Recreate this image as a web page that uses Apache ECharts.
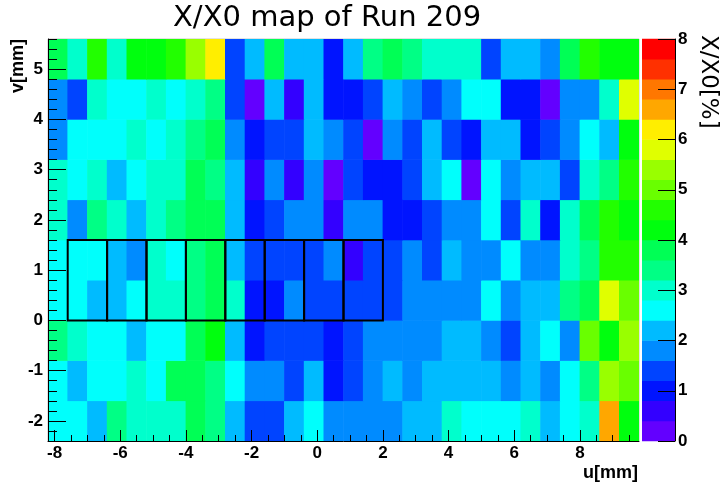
<!DOCTYPE html>
<html><head><meta charset="utf-8">
<script src="https://cdn.jsdelivr.net/npm/echarts@6/dist/echarts.min.js"></script>
<style>html,body{margin:0;padding:0;background:#fff}#c{width:720px;height:483px}</style>
</head><body><div id="c"></div><script>
// Binning of the map
const uBinStart = -8.2, uBinWidth = 0.6;
const vBinStart = -2.4, vBinHeight = 0.8;
// X/X0 [%] values, one array per v row (bottom to top), 30 u bins each
const row_v_m2p0 = [2.6,2.6,2.2,3.4,3.0,3.0,3.0,3.8,3.4,2.2,1.4,1.4,2.2,2.6,1.8, 1.8,1.8,1.8,2.2,2.2,3.0,2.6,2.6,2.6,3.0,2.2,2.6,3.0,6.6,4.2];
const row_v_m1p2 = [2.6,2.2,2.6,2.6,3.0,2.6,3.8,3.8,3.4,2.6,1.8,1.8,1.4,2.2,1.0, 1.4,1.8,2.2,1.8,2.2,2.2,2.2,2.2,1.8,2.2,1.8,2.6,3.4,5.4,5.0];
const row_v_m0p4 = [3.4,3.0,2.6,2.6,2.2,2.6,2.6,3.8,4.2,2.2,1.0,1.4,1.4,1.4,1.0, 1.4,1.8,1.8,1.8,1.8,2.2,2.2,1.8,1.4,2.2,2.6,1.8,5.0,4.2,5.4];
const row_v_p0p4 = [2.6,2.6,2.2,2.2,2.6,3.0,3.0,3.4,3.8,3.0,1.0,1.0,1.8,1.4,1.4, 1.4,1.4,1.4,1.8,1.8,1.8,1.8,2.6,1.8,2.2,2.2,3.4,3.8,5.8,5.0];
const row_v_p1p2 = [2.6,2.6,2.6,2.2,1.8,3.0,2.6,3.4,3.8,2.2,1.4,1.4,1.4,1.4,1.8, 0.6,1.4,1.4,1.8,1.4,2.2,1.8,1.8,2.6,1.8,1.8,3.0,3.4,4.6,4.6];
const row_v_p2p0 = [3.0,1.8,3.4,3.0,2.2,3.0,3.4,3.8,3.8,2.2,1.0,1.4,1.8,1.8,0.6, 1.8,1.8,1.0,1.0,1.4,1.8,1.8,2.6,1.4,3.0,1.0,3.0,3.8,4.6,4.2];
const row_v_p2p8 = [3.0,2.6,3.0,2.2,2.6,3.0,3.0,3.8,3.4,2.2,0.6,1.8,0.6,1.8,0.2, 1.4,1.0,1.0,1.4,2.2,2.6,0.2,2.6,1.8,2.2,2.2,1.4,3.0,3.4,4.6];
const row_v_p3p6 = [1.8,2.6,2.6,2.6,3.0,2.6,3.0,3.4,3.8,1.8,1.0,1.4,1.4,2.2,1.8, 1.4,0.2,1.8,1.4,2.2,1.4,1.0,2.2,2.2,1.0,1.4,1.8,2.6,2.2,4.2];
const row_v_p4p4 = [1.8,1.4,3.0,2.6,2.6,3.0,2.6,3.0,3.4,1.4,0.2,2.2,0.6,2.2,1.0, 1.0,1.4,2.2,1.8,1.4,1.8,2.6,2.6,1.0,1.0,0.2,1.8,1.8,3.0,5.8];
const row_v_p5p2 = [3.8,3.0,4.6,3.0,4.2,4.2,4.6,5.4,6.2,1.4,2.2,3.8,2.2,2.2,1.0, 2.2,3.4,3.8,3.4,3.0,3.0,3.0,1.4,2.2,2.2,1.8,3.8,4.6,4.2,4.2];
const rows = [row_v_m2p0,row_v_m1p2,row_v_m0p4,row_v_p0p4,row_v_p1p2,row_v_p2p0,row_v_p2p8,row_v_p3p6,row_v_p4p4,row_v_p5p2];

// Axis ticks
const uTicks = [-8,-6,-4,-2,0,2,4,6,8];
const vTicks = [-2,-1,0,1,2,3,4,5];
const uMinorTicks = [];
for (let k = -16; k <= 19; k++) uMinorTicks.push(k/2);
const vMinorTicks = [];
for (let k = -12; k <= 28; k++) vMinorTicks.push(Math.round(k*2)/10);
const zMin = 0, zMax = 8, zBand = 0.4;

// ROOT "pretty" palette, 20 contours
const paletteColors = ['#6300ff','#3300ff','#0014ff','#0044ff','#008bff','#00bbff','#00fffc','#00ffcc',
  '#00ff85','#00ff55','#00ff0e','#22ff00','#69ff00','#99ff00','#e0ff00','#ffee00','#ffa700','#ff7700','#ff3000','#ff0000'];

// Readout boxes (sensor cells)
const boxUEdges = [-7.6,-6.4,-5.2,-4.0,-2.8,-1.6,-0.4,0.8,2.0];
const boxVRange = [0,1.6];

const cellData = [];
rows.forEach((r, j) => r.forEach((val, i) => {
  cellData.push([uBinStart + (i+0.5)*uBinWidth, vBinStart + (j+0.5)*vBinHeight, val]);
}));
const barData = [];
const pieces = [];
for (let k = 0; k < paletteColors.length; k++) {
  const lo = zMin + k*zBand, hi = lo + zBand;
  barData.push([lo, hi, lo + zBand/2]);
  pieces.push({gte: lo, lt: hi, color: paletteColors[k]});
}
const boxData = [];
for (let k = 0; k < boxUEdges.length-1; k++) boxData.push([boxUEdges[k], boxUEdges[k+1], boxVRange[0], boxVRange[1]]);

const lblFont = {fontFamily:'Liberation Sans', fontWeight:'bold', fontSize:17, color:'#000'};

const chart = echarts.init(document.getElementById('c'), null, {renderer:'canvas'});
chart.setOption({
  animation:false,
  backgroundColor:'#fff',
  grid:[
    {left:48, top:39, width:591, height:402, show:true, borderColor:'#c4c4c4', borderWidth:1},
    {left:642, top:39, width:33, height:402}
  ],
  visualMap:{type:'piecewise', show:false, dimension:2, seriesIndex:[0,2], pieces:pieces},
  xAxis:[
    {gridIndex:0, type:'value', position:'bottom', min:uBinStart, max:9.8, z:10,
     axisLine:{onZero:false, lineStyle:{color:'#000', width:1}},
     axisTick:{inside:true, length:11, customValues:uTicks, lineStyle:{color:'#000'}},
     axisLabel:Object.assign({customValues:uTicks, margin:4}, lblFont),
     splitLine:{show:false}},
    {gridIndex:0, type:'value', position:'bottom', min:uBinStart, max:9.8, z:10,
     axisLine:{show:false, onZero:false},
     axisTick:{inside:true, length:6, customValues:uMinorTicks, lineStyle:{color:'#000'}},
     axisLabel:{show:false}, splitLine:{show:false}},
    {gridIndex:1, type:'value', min:0, max:1, show:false}
  ],
  yAxis:[
    {gridIndex:0, type:'value', position:'left', min:vBinStart, max:5.6, z:10,
     axisLine:{onZero:false, lineStyle:{color:'#000', width:1}},
     axisTick:{inside:true, length:18, customValues:vTicks, lineStyle:{color:'#000'}},
     axisLabel:Object.assign({customValues:vTicks, margin:5}, lblFont),
     splitLine:{show:false}},
    {gridIndex:0, type:'value', position:'left', min:vBinStart, max:5.6, z:10,
     axisLine:{show:false, onZero:false},
     axisTick:{inside:true, length:9, customValues:vMinorTicks, lineStyle:{color:'#000'}},
     axisLabel:{show:false}, splitLine:{show:false}},
    {gridIndex:1, type:'value', position:'right', min:zMin, max:zMax, interval:1, z:10,
     axisLine:{show:true, onZero:false, lineStyle:{color:'#000', width:1}},
     axisTick:{inside:true, length:17, lineStyle:{color:'#000'}},
     axisLabel:Object.assign({margin:3}, lblFont),
     splitLine:{show:false}}
  ],
  series:[
    {type:'custom', xAxisIndex:0, yAxisIndex:0, data:cellData, encode:{x:0, y:1}, clip:true, z:2,
     renderItem:function(params, api){
       const u = api.value(0), v = api.value(1);
       const p0 = api.coord([u - uBinWidth/2, v - vBinHeight/2]);
       const p1 = api.coord([u + uBinWidth/2, v + vBinHeight/2]);
       return {type:'rect', shape:{x:p0[0]-0.3, y:p1[1]-0.3, width:p1[0]-p0[0]+0.6, height:p0[1]-p1[1]+0.6},
               style:{fill:api.visual('color')}};
     }},
    {type:'custom', xAxisIndex:0, yAxisIndex:0, data:boxData, z:5, silent:true,
     renderItem:function(params, api){
       const p0 = api.coord([api.value(0), api.value(2)]);
       const p1 = api.coord([api.value(1), api.value(3)]);
       return {type:'rect', shape:{x:p0[0], y:p1[1], width:p1[0]-p0[0], height:p0[1]-p1[1]},
               style:{fill:'none', stroke:'#000', lineWidth:2}};
     }},
    {type:'custom', xAxisIndex:2, yAxisIndex:2, data:barData, z:2,
     renderItem:function(params, api){
       const p0 = api.coord([0, api.value(0)]);
       const p1 = api.coord([1, api.value(1)]);
       return {type:'rect', shape:{x:p0[0], y:p1[1]-0.3, width:p1[0]-p0[0], height:p0[1]-p1[1]+0.6},
               style:{fill:api.visual('color')}};
     }}
  ],
  graphic:[
    {type:'text', left:173, top:4, style:{text:'X/X0 map of Run 209', font:'29px "DejaVu Sans"', fill:'#000'}},
    {type:'text', x:638, y:473, style:{text:'u[mm]', font:'bold 18px "Liberation Sans"', fill:'#000', align:'right', verticalAlign:'middle'}},
    {type:'text', x:18, y:39, rotation:Math.PI/2, style:{text:'v[mm]', font:'bold 18px "Liberation Sans"', fill:'#000', align:'right', verticalAlign:'middle'}},
    {type:'text', x:708, y:35, rotation:-Math.PI/2, style:{text:'X/X0[%]', font:'23px "DejaVu Sans"', fill:'#000', align:'left', verticalAlign:'middle'}}
  ]
});
</script></body></html>
